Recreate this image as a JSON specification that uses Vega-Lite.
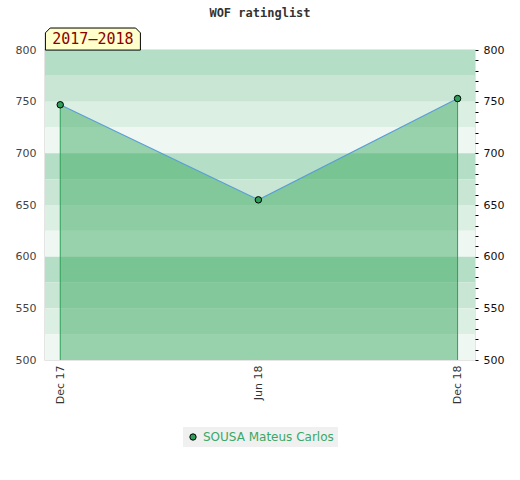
{
  "$schema": "https://vega.github.io/schema/vega-lite/v6.json",
  "description": "WOF ratinglist for SOUSA Mateus Carlos, 2017-2018",
  "autosize": "none",
  "width": 430,
  "height": 310,
  "padding": {"left": 45, "top": 50, "right": 45, "bottom": 120},
  "background": "white",
  "title": {
    "text": "WOF ratinglist",
    "font": "DejaVu Sans Mono",
    "fontSize": 12,
    "fontWeight": "bold",
    "color": "#333333",
    "offset": 6
  },
  "datasets": {
    "bands": [
      {"lo": 775, "hi": 800, "shade": "a"},
      {"lo": 750, "hi": 775, "shade": "b"},
      {"lo": 725, "hi": 750, "shade": "c"},
      {"lo": 700, "hi": 725, "shade": "d"},
      {"lo": 675, "hi": 700, "shade": "a"},
      {"lo": 650, "hi": 675, "shade": "b"},
      {"lo": 625, "hi": 650, "shade": "c"},
      {"lo": 600, "hi": 625, "shade": "d"},
      {"lo": 575, "hi": 600, "shade": "a"},
      {"lo": 550, "hi": 575, "shade": "b"},
      {"lo": 525, "hi": 550, "shade": "c"},
      {"lo": 500, "hi": 525, "shade": "d"}
    ],
    "ratings": [
      {"date": "2017-12-01", "rating": 747, "player": "SOUSA Mateus Carlos"},
      {"date": "2018-06-01", "rating": 655, "player": "SOUSA Mateus Carlos"},
      {"date": "2018-12-01", "rating": 753, "player": "SOUSA Mateus Carlos"}
    ],
    "season": [
      {"label": "2017\u20132018", "mid": "2017-12-31", "level": 810.6}
    ]
  },
  "layer": [
    {
      "encoding": {
        "x": {
          "field": "date",
          "type": "temporal",
          "scale": {
            "type": "utc",
            "domain": [
              {"year": 2017, "month": 11, "date": 17, "utc": true},
              {"year": 2018, "month": 12, "date": 17, "utc": true}
            ]
          },
          "axis": {
            "title": null,
            "values": [
              {"year": 2017, "month": 12, "date": 1, "utc": true},
              {"year": 2018, "month": 6, "date": 1, "utc": true},
              {"year": 2018, "month": 12, "date": 1, "utc": true}
            ],
            "format": "%b %y",
            "labelAngle": -90,
            "labelPadding": 5,
            "ticks": false,
            "domain": false,
            "grid": false,
            "labelFont": "DejaVu Sans",
            "labelFontSize": 11,
            "labelColor": "#333333"
          }
        },
        "y": {
          "field": "rating",
          "type": "quantitative",
          "scale": {"domain": [500, 800], "nice": false, "zero": false},
          "axis": {
            "title": null,
            "values": [500, 550, 600, 650, 700, 750, 800],
            "ticks": false,
            "domain": false,
            "grid": false,
            "labelPadding": 9,
            "labelFont": "DejaVu Sans",
            "labelFontSize": 11,
            "labelColor": "#444444"
          }
        }
      },
      "layer": [
        {
          "data": {"name": "bands"},
          "mark": {"type": "rect"},
          "encoding": {
            "x": null,
            "y": {"field": "lo", "type": "quantitative"},
            "y2": {"field": "hi"},
            "fill": {
              "field": "shade",
              "type": "nominal",
              "scale": {"domain": ["a", "b", "c", "d"], "range": ["#b4dec5", "#c9e6d4", "#dcefe3", "#eff7f2"]},
              "legend": null
            }
          }
        },
        {
          "data": {"name": "ratings"},
          "mark": {"type": "area", "color": "#2fa356", "opacity": 0.45},
          "encoding": {"y2": {"datum": 500}}
        },
        {
          "data": {"name": "ratings"},
          "transform": [{"filter": "utcmonth(datum.date) == 11"}],
          "mark": {"type": "rule", "color": "#2ea05a", "strokeWidth": 1},
          "encoding": {"y2": {"datum": 500}}
        },
        {
          "data": {"name": "ratings"},
          "mark": {"type": "line", "color": "#5a9fd4", "strokeWidth": 1.2},
          "encoding": {}
        },
        {
          "data": {"name": "ratings"},
          "mark": {"type": "point", "filled": true, "size": 42, "stroke": "black", "strokeWidth": 1, "opacity": 1},
          "encoding": {
            "color": {
              "field": "player",
              "type": "nominal",
              "scale": {"range": ["#2e9e5a"]},
              "legend": {
                "title": null,
                "orient": "none",
                "legendX": 138,
                "legendY": 377,
                "direction": "horizontal",
                "fillColor": "#f0f0f0",
                "padding": 4,
                "symbolType": "circle",
                "symbolSize": 40,
                "symbolStrokeColor": "black",
                "symbolStrokeWidth": 1,
                "symbolOpacity": 1,
                "labelFont": "DejaVu Sans",
                "labelFontSize": 12,
                "labelColor": "#3aa866"
              }
            }
          }
        },
        {
          "data": {"name": "season"},
          "mark": {
            "type": "point",
            "shape": "M-1,0.232L-1,-0.13L-0.9,-0.232L0.9,-0.232L1,-0.13L1,0.232Z",
            "size": 9025,
            "filled": true,
            "fill": "#ffffcc",
            "stroke": "black",
            "strokeWidth": 1,
            "opacity": 1,
            "clip": false
          },
          "encoding": {
            "x": {"field": "mid", "type": "temporal"},
            "y": {"field": "level", "type": "quantitative"}
          }
        },
        {
          "data": {"name": "season"},
          "mark": {
            "type": "text",
            "font": "DejaVu Sans Mono",
            "fontSize": 15,
            "fontWeight": "normal",
            "color": "#8b0000",
            "align": "center",
            "baseline": "middle",
            "clip": false
          },
          "encoding": {
            "text": {"field": "label"},
            "x": {"field": "mid", "type": "temporal"},
            "y": {"field": "level", "type": "quantitative"}
          }
        }
      ]
    },
    {
      "data": {"name": "ratings"},
      "mark": {"type": "tick", "opacity": 0},
      "encoding": {
        "y": {
          "field": "rating",
          "type": "quantitative",
          "scale": {"domain": [500, 800], "nice": false, "zero": false},
          "axis": {
            "orient": "right",
            "title": null,
            "values": [500, 510, 520, 530, 540, 550, 560, 570, 580, 590, 600, 610, 620, 630, 640, 650, 660, 670, 680, 690, 700, 710, 720, 730, 740, 750, 760, 770, 780, 790, 800],
            "labelExpr": "datum.value % 50 === 0 ? datum.label : ''",
            "ticks": true,
            "tickSize": 3,
            "tickColor": "black",
            "domain": false,
            "grid": false,
            "labelPadding": 5,
            "labelFont": "DejaVu Sans",
            "labelFontSize": 11,
            "labelColor": "#111111"
          }
        }
      }
    }
  ],
  "resolve": {"axis": {"y": "independent"}},
  "config": {
    "view": {"stroke": "#dddddd", "strokeWidth": 1.5}
  }
}
